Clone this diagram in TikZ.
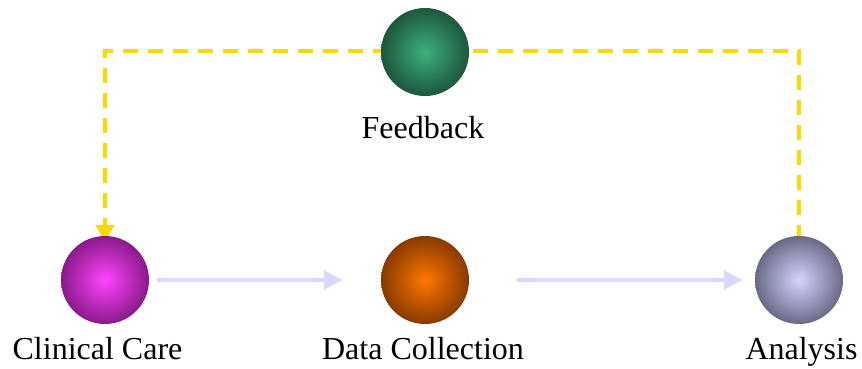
\documentclass[tikz,border=0pt]{standalone}
\usepackage{fontspec}
\setmainfont{Liberation Serif}
\usetikzlibrary{arrows.meta,backgrounds}
\definecolor{ccin}{HTML}{FF44FF}\definecolor{ccout}{HTML}{8A1A8A}
\definecolor{dcin}{HTML}{FF7700}\definecolor{dcout}{HTML}{883A00}
\definecolor{anin}{HTML}{D4D4FF}\definecolor{anout}{HTML}{6A6A86}
\definecolor{fbin}{HTML}{3DB07E}\definecolor{fbout}{HTML}{1D573C}
\definecolor{flowc}{HTML}{D8D8FF}
\definecolor{goldc}{HTML}{FFD700}
\pgfdeclareradialshading{ccshade}{\pgfpoint{0bp}{0bp}}{color(0bp)=(ccin); color(25bp)=(ccout); color(50bp)=(ccout)}
\pgfdeclareradialshading{dcshade}{\pgfpoint{0bp}{0bp}}{color(0bp)=(dcin); color(25bp)=(dcout); color(50bp)=(dcout)}
\pgfdeclareradialshading{anshade}{\pgfpoint{0bp}{0bp}}{color(0bp)=(anin); color(25bp)=(anout); color(50bp)=(anout)}
\pgfdeclareradialshading{fbshade}{\pgfpoint{0bp}{0bp}}{color(0bp)=(fbin); color(25bp)=(fbout); color(50bp)=(fbout)}
\begin{document}
\begin{tikzpicture}[x=1pt,y=-1pt,
  ball/.style={circle, minimum size=88pt, inner sep=0pt},
  lab/.style={font=\fontsize{32}{38}\selectfont, anchor=base, inner sep=0pt},
  flow/.style={draw=flowc, line width=4.5pt, -{Triangle[length=19pt,width=18pt]}},
  fbline/.style={draw=goldc, line width=4.5pt, dash pattern=on 15pt off 10pt, -{Triangle[length=17pt,width=18pt]}}]
\useasboundingbox (0,0) rectangle (862,369);
\node[ball, shading=ccshade] (cc) at (105,280) {};
\node[ball, shading=dcshade] (dc) at (425,280) {};
\node[ball, shading=anshade] (an) at (799,280) {};
\node[ball, shading=fbshade] (fb) at (425,52) {};
\node[lab] (ccl) at (97.5,359) {Clinical Care};
\node[lab] (dcl) at (423,359) {Data Collection};
\node[lab] (anl) at (801.5,359) {Analysis};
\node[lab] (fbl) at (423,138) {Feedback};
\draw[flow] ([xshift=8pt]cc.east) -- ([xshift=-38pt]dc.west);
\draw[flow] ([xshift=48pt]dc.east) -- ([xshift=-12pt]an.west);
\coordinate (tr) at (799,51);
\coordinate (tl) at (105,51);
\begin{scope}[on background layer]
\draw[fbline] ([yshift=-4pt]an.north) -- (tr) -- (tl) -- ([yshift=-6pt]cc.north);
\end{scope}
\end{tikzpicture}
\end{document}
